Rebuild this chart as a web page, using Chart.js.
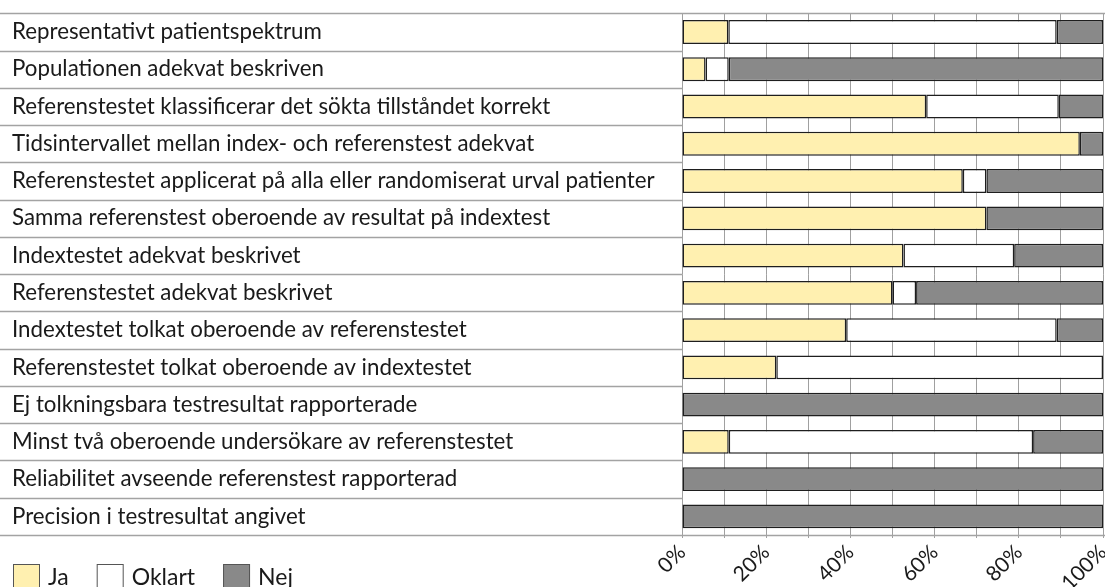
<!DOCTYPE html>
<html>
<head>
<meta charset="utf-8">
<script src="https://cdn.jsdelivr.net/npm/chart.js@4.4.0/dist/chart.umd.min.js"></script>
<style>
  html, body { margin: 0; padding: 0; background: #fff; }
  #wrap { width: 1105px; height: 587px; }
</style>
</head>
<body>
<div id="wrap"><canvas id="qualityChart"></canvas></div>
<script>
// Quality criteria (rows, top to bottom)
const categories = [
    'Representativt patientspektrum',
    'Populationen adekvat beskriven',
    'Referenstestet klassificerar det sökta tillståndet korrekt',
    'Tidsintervallet mellan index- och referenstest adekvat',
    'Referenstestet applicerat på alla eller randomiserat urval patienter',
    'Samma referenstest oberoende av resultat på indextest',
    'Indextestet adekvat beskrivet',
    'Referenstestet adekvat beskrivet',
    'Indextestet tolkat oberoende av referenstestet',
    'Referenstestet tolkat oberoende av indextestet',
    'Ej tolkningsbara testresultat rapporterade',
    'Minst två oberoende undersökare av referenstestet',
    'Reliabilitet avseende referenstest rapporterad',
    'Precision i testresultat angivet'
];

// Share of studies (%) per answer
const ja     = [11.0, 5.6, 58.0, 94.5, 66.7, 72.3, 52.6, 50.0, 39.0, 22.4, 0, 11.1, 0, 0];
const oklart = [78.0, 5.5, 31.5, 0, 5.6, 0, 26.3, 5.6, 50.0, 77.6, 0, 72.3, 0, 0];
const nej    = [11.0, 88.9, 10.5, 5.5, 27.7, 27.7, 21.1, 44.4, 11.0, 0, 100, 16.6, 100, 100];

const seriesNames = ['Ja', 'Oklart', 'Nej'];
const tickLabels = ['0%', '20%', '40%', '60%', '80%', '100%'];

const FONT = 'Lato, "Open Sans", sans-serif';

// Row separators on the label side, plus full-width top and bottom lines
const rowLines = {
    id: 'rowLines',
    beforeDatasetsDraw(chart) {
        const { ctx, chartArea, scales: { y } } = chart;
        const band = y.getPixelForValue(1) - y.getPixelForValue(0);
        ctx.save();
        ctx.strokeStyle = '#a3a3a3';
        ctx.lineWidth = 1.5;
        for (let i = 0; i <= categories.length; i++) {
            const py = Math.round(y.getPixelForValue(i) - band / 2) + 0.5;
            const right = (i === 0 || i === categories.length) ? chart.width : chartArea.left;
            ctx.beginPath();
            ctx.moveTo(0, py);
            ctx.lineTo(right, py);
            ctx.stroke();
        }
        ctx.restore();
    }
};

// Legend in the lower left corner
const cornerLegend = {
    id: 'cornerLegend',
    afterDraw(chart) {
        const ctx = chart.ctx;
        let x = 13;
        const top = 564;
        ctx.save();
        ctx.font = '23px ' + FONT;
        ctx.textBaseline = 'alphabetic';
        chart.data.datasets.forEach(ds => {
            ctx.fillStyle = ds.backgroundColor;
            ctx.fillRect(x, top, 27, 24);
            ctx.strokeStyle = '#555';
            ctx.lineWidth = 1;
            ctx.strokeRect(x + 0.5, top + 0.5, 26, 23);
            ctx.fillStyle = '#1a1a1a';
            ctx.fillText(ds.label, x + 35, top + 21);
            x += 35 + ctx.measureText(ds.label).width + 28;
        });
        ctx.restore();
    }
};

const ctx = document.getElementById('qualityChart').getContext('2d');
new Chart(ctx, {
    type: 'bar',
    data: {
        labels: categories,
        datasets: [
            { label: seriesNames[0], data: ja, backgroundColor: '#fff0b0' },
            { label: seriesNames[1], data: oklart, backgroundColor: '#ffffff' },
            { label: seriesNames[2], data: nej, backgroundColor: '#898989' }
        ].map(ds => Object.assign(ds, {
            borderColor: '#1e1e1e',
            borderWidth: 1.5,
            borderSkipped: false,
            barPercentage: 0.64,
            categoryPercentage: 1
        }))
    },
    options: {
        indexAxis: 'y',
        responsive: true,
        maintainAspectRatio: false,
        animation: false,
        layout: { padding: { left: 12, top: 13, right: 2 } },
        plugins: {
            legend: { display: false },
            tooltip: { enabled: false }
        },
        scales: {
            x: {
                stacked: true,
                min: 0,
                max: 100,
                border: { display: false },
                grid: { color: '#a0a0a0', lineWidth: 1, tickLength: 3 },
                ticks: {
                    stepSize: 10,
                    autoSkip: false,
                    minRotation: 45,
                    maxRotation: 45,
                    padding: 2,
                    color: '#1a1a1a',
                    font: { family: FONT, size: 21 },
                    callback: v => (v % 20 === 0 ? tickLabels[v / 20] : '')
                },
                afterFit: scale => {
                    scale.height = 52;
                    scale.paddingLeft = 0;
                    scale.paddingRight = 0;
                }
            },
            y: {
                stacked: true,
                grid: { display: false },
                border: { display: false },
                ticks: {
                    crossAlign: 'far',
                    padding: 0,
                    color: '#1a1a1a',
                    font: { family: FONT, size: 22.3 }
                },
                afterFit: scale => { scale.width = 670; }
            }
        }
    },
    plugins: [rowLines, cornerLegend]
});
</script>
</body>
</html>
